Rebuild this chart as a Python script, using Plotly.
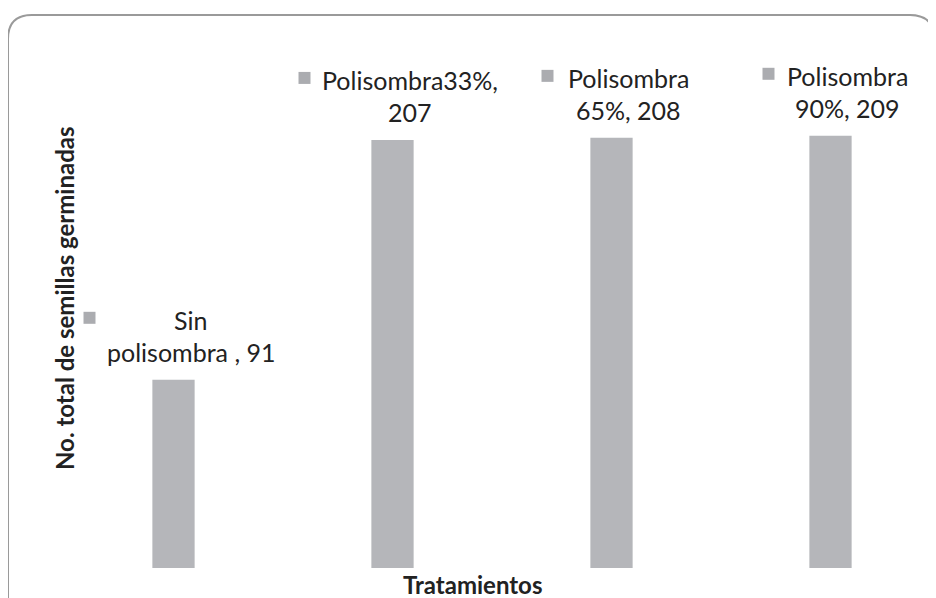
import plotly.graph_objects as go

# ---- data ----
categories = ["Sin polisombra", "Polisombra 33%", "Polisombra 65%", "Polisombra 90%"]
values = [91, 207, 208, 209]
label_line1 = ["Sin", "Polisombra33%,", "Polisombra", "Polisombra"]
label_line2 = ["polisombra , 91", "207", "65%, 208", "90%, 209"]
y_title = "No. total de semillas germinadas"
x_title = "Tratamientos"

W, H = 936, 598
OFF = 8  # page body margin
L, R, T, B = 56, 4, 43, 38
PW, PH = W - L - R, H - T - B

BAR = "#b5b6ba"
KEY = "#abacb0"
TXT = "#222222"
FONT = "Lato"

fig = go.Figure()
fig.add_trace(go.Bar(x=categories, y=values, marker=dict(color=BAR, line=dict(width=0)),
                     hoverinfo="skip", showlegend=False))

# page-pixel -> paper helpers
def px(xp):
    return (xp - OFF - L) / PW
def py(yp):
    return (H - B - (yp - OFF)) / PH

# data labels (offsets in px from the top of each bar)
key_dx = [-84, -88, -64, -62]
for i, (c, v) in enumerate(zip(categories, values)):
    fig.add_annotation(x=c, y=v, text=label_line1[i], showarrow=False,
                       xshift=17, yshift=60, xanchor="center", yanchor="middle",
                       font=dict(family=FONT, size=25, color=TXT))
    fig.add_annotation(x=c, y=v, text=label_line2[i], showarrow=False,
                       xshift=17, yshift=28, xanchor="center", yanchor="middle",
                       font=dict(family=FONT, size=25, color=TXT))
    fig.add_shape(type="rect", xref="x", yref="y", xsizemode="pixel", ysizemode="pixel",
                  xanchor=c, yanchor=v, x0=key_dx[i] - 6, x1=key_dx[i] + 6,
                  y0=56, y1=68, fillcolor=KEY, line=dict(width=0))

# axis titles
fig.add_annotation(xref="paper", yref="paper", x=px(64), y=py(298),
                   xanchor="center", yanchor="middle",
                   text=y_title, textangle=-90, showarrow=False,
                   font=dict(family=FONT, size=24, color=TXT, weight="bold"))
fig.add_annotation(xref="paper", yref="paper", x=px(472), y=py(584),
                   xanchor="center", yanchor="middle",
                   text=x_title, showarrow=False,
                   font=dict(family=FONT, size=24, color=TXT, weight="bold"))

# rounded border
x0, x1, y0, y1, r = 8, 934, 15, 640, 24
path = (f"M {px(x0)},{py(y0 + r)} Q {px(x0)},{py(y0)} {px(x0 + r)},{py(y0)} "
        f"L {px(x1 - r)},{py(y0)} Q {px(x1)},{py(y0)} {px(x1)},{py(y0 + r)} "
        f"L {px(x1)},{py(y1)} L {px(x0)},{py(y1)} Z")
fig.add_shape(type="path", xref="paper", yref="paper", path=path,
              line=dict(color="#9a9a9a", width=2), fillcolor="rgba(0,0,0,0)", layer="below")

fig.update_layout(
    width=W, height=H, margin=dict(l=L, r=R, t=T, b=B),
    paper_bgcolor="white", plot_bgcolor="white",
    bargap=0.807,
    xaxis=dict(showticklabels=False, showgrid=False, zeroline=False, showline=False, ticks=""),
    yaxis=dict(range=[0, 250], showticklabels=False, showgrid=False, zeroline=False,
               showline=False, ticks=""),
)
fig.write_html("out.html")
